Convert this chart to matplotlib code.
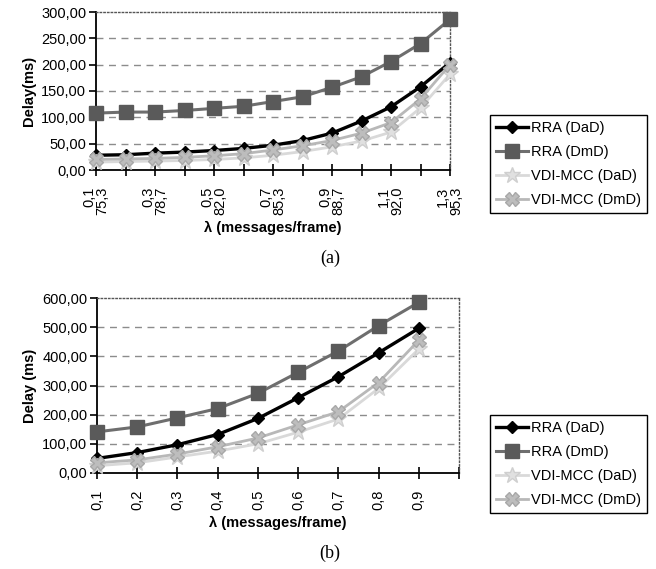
import matplotlib.pyplot as plt
from matplotlib.ticker import FuncFormatter

# fonts: Arial-like for the charts, Times-like for captions
plt.rcParams['font.family'] = ['Liberation Sans', 'DejaVu Sans']

# ---- data: top chart (a) ----
lam_a = ['0,1', '0,2', '0,3', '0,4', '0,5', '0,6', '0,7', '0,8', '0,9', '1,0', '1,1', '1,2', '1,3']
load_a = ['75,3', '', '78,7', '', '82,0', '', '85,3', '', '88,7', '', '92,0', '', '95,3']
rra_dad_a = [28, 29, 32, 34, 37, 41, 47, 56, 70, 93, 120, 158, 204]
rra_dmd_a = [108, 110, 110, 113, 117, 121, 130, 139, 157, 177, 206, 240, 286]
vdi_dad_a = [15, 16, 17, 18, 20, 23, 28, 35, 44, 55, 72, 118, 182]
vdi_dmd_a = [20, 21, 22, 24, 27, 31, 38, 46, 56, 70, 90, 135, 200]

# ---- data: bottom chart (b) ----
lam_b = ['0,1', '0,2', '0,3', '0,4', '0,5', '0,6', '0,7', '0,8', '0,9', '']
rra_dad_b = [50, 70, 97, 132, 187, 258, 330, 412, 496]
rra_dmd_b = [141, 158, 189, 221, 273, 345, 418, 505, 585]
vdi_dad_b = [25, 35, 55, 75, 100, 140, 185, 290, 425]
vdi_dmd_b = [35, 45, 65, 90, 120, 165, 210, 310, 455]

labels = ['RRA (DaD)', 'RRA (DmD)', 'VDI-MCC (DaD)', 'VDI-MCC (DmD)']
styles = [
    dict(color='black', lw=2.4, marker='D', ms=6, mfc='black', mec='black'),
    dict(color='#6e6e6e', lw=2.2, marker='s', ms=10, mfc='#5a5a5a', mec='#5a5a5a'),
    dict(color='#d9d9d9', lw=2.0, marker='*', ms=12, mfc='#e0e0e0', mec='#cfcfcf'),
    dict(color='#b8b8b8', lw=2.0, marker='X', ms=10, mfc='#bdbdbd', mec='#a8a8a8'),
]

W, H = 656, 569
fig = plt.figure(figsize=(W / 100, H / 100), dpi=100)


def px_axes(l, t, r, b):
    return fig.add_axes([l / W, 1 - b / H, (r - l) / W, (b - t) / H])


def style_axes(ax, ymax, ystep):
    ax.set_ylim(0, ymax)
    yt = list(range(0, ymax + 1, ystep))
    ax.set_yticks(yt)
    ax.yaxis.set_major_formatter(FuncFormatter(lambda v, p: f'{v:.2f}'.replace('.', ',')))
    for y in yt[1:-1]:
        ax.axhline(y, color='#8c8c8c', lw=1.0, ls=(0, (5, 4)), zorder=0)
    for s in ('top', 'right'):
        ax.spines[s].set_linestyle(':')
        ax.spines[s].set_color('#555555')
        ax.spines[s].set_linewidth(1.0)
    for s in ('left', 'bottom'):
        ax.spines[s].set_linewidth(1.3)
    ax.tick_params(axis='y', direction='out', length=5, width=1.2, labelsize=10.5, pad=2)
    ax.tick_params(axis='x', direction='inout', length=8, width=1.2, labelsize=10.5, pad=8)


def draw(ax, series):
    for vals, st, lab in zip(series, styles, labels):
        ax.plot(range(len(vals)), vals, label=lab, clip_on=False, zorder=3, **st)


def legend(ax, x, y):
    ax.legend(loc='upper left', bbox_to_anchor=(x / W, 1 - y / H), bbox_transform=fig.transFigure,
              fontsize=10.5, frameon=True, fancybox=False, edgecolor='black', framealpha=1,
              handlelength=2.2, handletextpad=0.2, borderpad=0.4, borderaxespad=0,
              labelspacing=0.7, numpoints=1)


# ---- (a) ----
ax1 = px_axes(96, 12, 450, 170)
draw(ax1, [rra_dad_a, rra_dmd_a, vdi_dad_a, vdi_dmd_a])
ax1.set_xlim(0, len(lam_a) - 1)
style_axes(ax1, 300, 50)
ax1.set_xticks(range(len(lam_a)))
ax1.set_xticklabels([f'{a}\n{b}' if b else '' for a, b in zip(lam_a, load_a)],
                    rotation=90, multialignment='right', linespacing=0.95)
ax1.set_ylabel('Delay(ms)', fontsize=10.5, fontweight='bold', labelpad=4)
ax1.set_xlabel('λ (messages/frame)', fontsize=10.5, fontweight='bold', labelpad=4)
legend(ax1, 490, 115)

# ---- (b) ----
ax2 = px_axes(97, 298, 459, 473)
draw(ax2, [rra_dad_b, rra_dmd_b, vdi_dad_b, vdi_dmd_b])
ax2.set_xlim(0, len(lam_b) - 1)
style_axes(ax2, 600, 100)
ax2.set_xticks(range(len(lam_b)))
ax2.set_xticklabels(lam_b, rotation=90)
ax2.set_ylabel('Delay (ms)', fontsize=10.5, fontweight='bold', labelpad=4)
ax2.set_xlabel('λ (messages/frame)', fontsize=10.5, fontweight='bold', labelpad=4)
legend(ax2, 490, 415)

fig.text(330 / W, 1 - 258 / H, '(a)', ha='center', va='center', fontsize=13,
         family=['Liberation Serif', 'DejaVu Serif'])
fig.text(330 / W, 1 - 553 / H, '(b)', ha='center', va='center', fontsize=13,
         family=['Liberation Serif', 'DejaVu Serif'])

fig.savefig('out.png', dpi=100)
